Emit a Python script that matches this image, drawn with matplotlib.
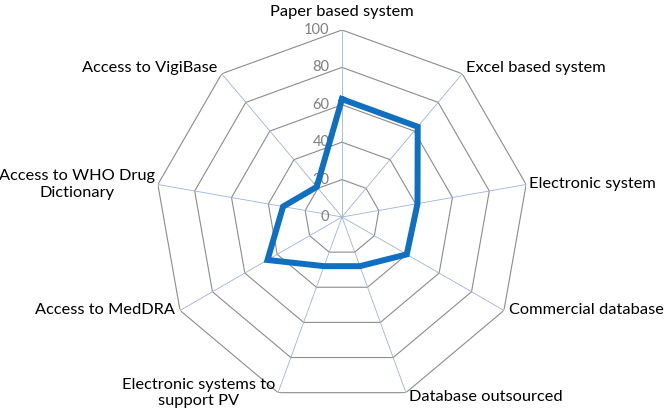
#!/usr/bin/env python3

# Radar chart of pharmacovigilance system features

import numpy as np
import matplotlib.pyplot as plt

categories = ['Paper based system', 'Excel based system', 'Electronic system',
              'Commercial database', 'Database outsourced',
              'Electronic systems to\nsupport PV', 'Access to MedDRA',
              'Access to WHO Drug\nDictionary', 'Access to VigiBase']
values = [63, 63, 41, 40, 28, 28, 46, 32, 21]
levels = [20, 40, 60, 80, 100]
tick_labels = ['0', '20', '40', '60', '80', '100']


def graph():
    plt.rcParams['font.family'] = ['Lato', 'DejaVu Sans']
    fig = plt.figure(figsize=(6.69, 4.17), dpi=100)
    ax = fig.add_axes([0.2317, 0.0312, 0.559, 0.897], projection='polar')
    ax.set_theta_zero_location('N')
    ax.set_theta_direction(-1)
    ax.set_ylim(0, 100)
    ax.grid(False)
    ax.spines['polar'].set_visible(False)
    ax.set_xticks([])
    ax.set_yticks([])
    ax.patch.set_alpha(0)

    n = len(categories)
    angles = np.linspace(0, 2 * np.pi, n, endpoint=False)
    closed = np.append(angles, angles[0])

    # polygon grid
    for lv in levels:
        ax.plot(closed, [lv] * (n + 1), color='#8c8c8c', lw=0.8, zorder=1)
    # spokes
    for a in angles:
        ax.plot([a, a], [0, 100], color='#9fb3d6', lw=0.6, zorder=1)

    # scale labels
    for i, t in enumerate(tick_labels):
        ax.annotate(t, xy=(0, i * 20), xytext=(-9, 0), textcoords='offset points',
                    ha='right', va='center', fontsize=10.5, color='#7f7f7f')

    ax.plot(closed, values + values[:1], color='#0f6fc0', lw=4.3,
            solid_joinstyle='miter', zorder=3)

    for a, lab in zip(angles, categories):
        s, c = np.sin(a), np.cos(a)
        if abs(s) < 0.1:
            ha, va, off = 'center', 'bottom', (0, 8)
        else:
            ha = 'left' if s > 0 else 'right'
            if c > 0.5:
                va, off = 'bottom', (3 * np.sign(s), -1)
            elif c < -0.85:
                va, off = ('top', (2, 2)) if s > 0 else ('center', (-2, 0))
            elif abs(c) < 0.3:
                va, off = 'center', (2 * np.sign(s), 0)
            else:
                va, off = 'center', (4 * np.sign(s), 0)
        ax.annotate(lab, xy=(a, 100), xytext=off, textcoords='offset points',
                    ha=ha, va=va, fontsize=11.8, color='black',
                    multialignment='center', annotation_clip=False)

    fig.savefig('out.png', dpi=100, facecolor='white')


if __name__ == "__main__":
    graph()
